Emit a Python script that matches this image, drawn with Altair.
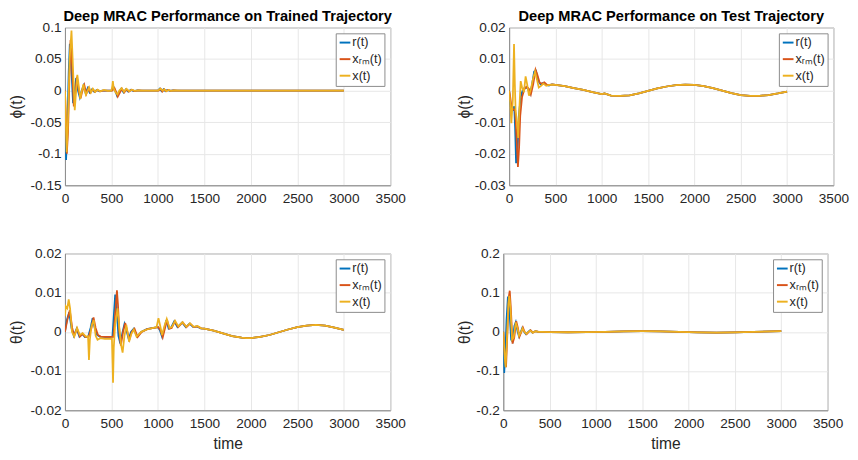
import altair as alt
import pandas as pd

SERIES = ["r(t)", "xᵣₘ(t)", "x(t)"]
COLORS = ["#0072BD", "#D95319", "#EDB120"]

# ---------------- Panel 1: phi, trained trajectory ----------------
p1_r_t = [0, 5, 12, 25, 40, 52, 65, 87, 105, 120, 140, 160, 180, 200, 222, 245, 265, 290, 315, 340, 370, 400,
          450, 500, 525, 545, 560, 580, 605, 630, 655, 680, 710, 740, 780, 820, 900, 1000, 1020, 1040, 1060,
          1080, 1100, 1130, 1160, 1200]
p1_r_v = [0, -0.06, -0.11, -0.06, 0.03, 0.074, 0.045, -0.02, 0.0, 0.02, 0.0, -0.011, 0.0, 0.008, -0.004, 0.004,
          -0.003, 0.002, -0.002, 0.001, -0.001, 0.0, 0.0, 0.0, 0.005, -0.002, -0.008, -0.003, 0.003, -0.003, 0.002,
          -0.0015, 0.0012, -0.0008, 0.0005, 0, 0, 0, 0.003, -0.001, 0.002, -0.001, 0.001, -0.0005, 0.0003, 0]
p1_m_t = [0, 12, 20, 33, 48, 60, 73, 95, 113, 128, 148, 168, 188, 208, 230, 253, 273, 298, 323, 348, 378, 408,
          458, 508, 533, 553, 568, 588, 613, 638, 663, 688, 718, 748, 788, 828, 908, 1008, 1028, 1048, 1068,
          1088, 1108, 1138, 1168, 1208]
p1_m_v = [0, -0.05, -0.1, -0.065, 0.02, 0.08, 0.05, -0.025, -0.002, 0.022, 0.0, -0.012, 0.0, 0.009, -0.005, 0.004,
          -0.003, 0.002, -0.002, 0.001, -0.001, 0.0, 0.0, 0.0, 0.004, -0.003, -0.0095, -0.004, 0.003, -0.003, 0.002,
          -0.0015, 0.0012, -0.0008, 0.0005, 0, 0, 0, 0.003, -0.0015, 0.002, -0.001, 0.001, -0.0005, 0.0003, 0]
p1_x_t = [0, 10, 18, 30, 50, 70, 85, 105, 120, 133, 150, 165, 182, 199, 212, 225, 245, 260, 280, 300, 325, 350,
          380, 420, 460, 500, 510, 515, 525, 545, 565, 585, 610, 635, 660, 690, 720, 750, 790, 850, 1000, 1015,
          1030, 1050, 1070, 1090, 1115, 1140, 1180, 1250]
p1_x_v = [0, -0.05, -0.0975, -0.06, 0.05, 0.095, 0.04, -0.031, 0.0, 0.025, 0.005, -0.013, 0.0, 0.010, 0.0,
          -0.0065, 0.0, 0.005, -0.003, 0.003, -0.002, 0.0015, -0.001, 0.001, -0.0005, 0.0, 0.008, 0.015, 0.003,
          -0.003, -0.006, 0.0, 0.004, -0.002, 0.003, -0.001, 0.0015, -0.0005, 0.0005, 0, 0, 0.002, 0.003, 0.0,
          0.002, -0.001, 0.001, -0.0005, 0.0003, 0]
p1_tail_t = [1500, 2000, 2500, 3000]
p1_tail_v = [0.0, 0.0, 0.0, 0.0]

# ---------------- Panel 2: phi, test trajectory ----------------
p2_r_t = [0, 10, 20, 40, 55, 65, 75, 85, 95, 105, 125, 150, 175, 200, 225, 245, 270, 290, 315, 340, 370, 400,
          430, 460]
p2_r_v = [0, -0.003, -0.0055, -0.006, -0.005, -0.012, -0.023, -0.021, -0.016, -0.008, -0.002, 0.0005, 0.001,
          0.0008, -0.001, 0.0015, 0.006, 0.0063, 0.003, 0.002, 0.0025, 0.0018, 0.0016, 0.002]
p2_m_t = [0, 12, 25, 45, 65, 80, 95, 108, 120, 140, 165, 190, 215, 235, 260, 285, 305, 330, 355, 380, 410, 440,
          470]
p2_m_v = [0, -0.002, -0.005, -0.006, -0.006, -0.015, -0.0242, -0.018, -0.008, -0.002, 0.0005, 0.0012, 0.0005,
          -0.0012, 0.002, 0.0066, 0.005, 0.0025, 0.0022, 0.0026, 0.0018, 0.0018, 0.002]
p2_x_t = [0, 12, 24, 40, 53, 62, 70, 85, 98, 110, 125, 140, 160, 178, 195, 214, 235, 260, 280, 300, 320, 345,
          370, 400, 430, 470]
p2_x_v = [0, -0.004, -0.0103, -0.003, 0.0148, 0.002, -0.0062, -0.01, -0.015, -0.006, 0.003, 0.001, -0.0005,
          0.0045, 0.002, -0.0016, 0.0005, 0.004, 0.006, 0.0035, 0.001, 0.0015, 0.0022, 0.0015, 0.0018, 0.0019]
p2_tail_t = [500, 600, 700, 800, 900, 1000, 1030, 1060, 1100, 1200, 1300, 1400, 1500, 1600, 1700, 1800, 1900,
             2000, 2100, 2200, 2300, 2400, 2500, 2600, 2700, 2800, 2900, 3000]
p2_tail_v = [0.0018, 0.0014, 0.0008, 0.0002, -0.0005, -0.0011, -0.0009, -0.0012, -0.0016, -0.0017, -0.0015,
             -0.0009, -0.0001, 0.0007, 0.0013, 0.0017, 0.0019, 0.0018, 0.0014, 0.0008, 0.0, -0.0008, -0.0014,
             -0.0017, -0.0017, -0.0014, -0.0009, -0.0003]

# ---------------- Panel 3: theta, trained trajectory ----------------
p3_r_t = [0, 20, 45, 70, 95, 125, 155, 185, 215, 250, 275, 297, 320, 345, 375, 420, 470, 510, 525, 540, 555, 575,
          595, 620, 640, 665, 685, 710, 740, 775, 820, 880, 950, 1000, 1020, 1045, 1065, 1090, 1115, 1140, 1175,
          1210, 1260, 1300, 1340, 1380, 1420, 1460]
p3_r_v = [0, 0.003, 0.005, 0.001, -0.001, 0.0008, -0.0012, -0.0005, -0.0013, -0.0012, 0.001, 0.0035, 0.001,
          -0.0008, -0.0012, -0.0013, -0.0013, -0.0013, 0.004, 0.0095, 0.006, -0.001, -0.003, 0.0, 0.002, 0.0,
          -0.0018, 0.0, 0.0008, -0.0012, 0.0, 0.0007, 0.001, 0.0012, 0.0005, -0.0013, 0.0005, 0.003, 0.0008,
          0.001, 0.0027, 0.0012, 0.0024, 0.0012, 0.0021, 0.0012, 0.0014, 0.0009]
p3_m_t = [0, 25, 52, 78, 100, 130, 160, 190, 220, 255, 285, 307, 330, 355, 385, 430, 480, 520, 535, 559, 570, 585,
          601, 625, 648, 672, 692, 718, 748, 782, 825, 885, 955, 1005, 1028, 1052, 1072, 1098, 1122, 1148, 1182,
          1218, 1266, 1306, 1346, 1386, 1426, 1466]
p3_m_v = [0, 0.003, 0.0055, 0.001, -0.001, 0.0008, -0.0012, -0.0005, -0.0013, -0.0012, 0.001, 0.0037, 0.001,
          -0.0008, -0.0012, -0.0013, -0.0013, -0.0013, 0.003, 0.0106, 0.007, 0.0, -0.0035, 0.0, 0.0023, 0.0,
          -0.002, 0.0, 0.0008, -0.0013, 0.0, 0.0007, 0.001, 0.0012, 0.0004, -0.0014, 0.0005, 0.0031, 0.0008,
          0.001, 0.0027, 0.0012, 0.0024, 0.0012, 0.0021, 0.0012, 0.0014, 0.0009]
p3_x_t = [0, 8, 25, 40, 55, 75, 100, 130, 160, 190, 225, 248, 258, 268, 285, 310, 330, 350, 380, 430, 480, 505,
          512, 517, 525, 540, 565, 585, 605, 620, 640, 660, 690, 715, 740, 770, 820, 880, 950, 985, 1006, 1025,
          1045, 1070, 1095, 1125, 1150, 1185, 1220, 1265, 1305, 1345, 1385, 1425, 1465]
p3_x_v = [0.004, 0.0065, 0.006, 0.0083, 0.006, 0.0, -0.0012, 0.001, -0.0008, -0.0003, -0.0012, -0.0011,
          -0.0072, -0.002, 0.0015, 0.003, -0.001, -0.002, -0.0016, -0.0018, -0.0018, -0.0017, -0.008, -0.013,
          -0.004, 0.002, 0.006, 0.001, -0.0035, -0.0053, -0.001, 0.0018, -0.0025, -0.0005, 0.0006, -0.0012, 0.0,
          0.0006, 0.001, 0.0012, 0.0035, 0.0015, -0.0008, 0.0015, 0.0033, 0.001, 0.0012, 0.0028, 0.0014, 0.0025,
          0.0013, 0.0022, 0.0013, 0.0015, 0.0009]
p3_tail_t = [1500, 1600, 1700, 1800, 1900, 1950, 2000, 2100, 2200, 2300, 2400, 2500, 2600, 2700, 2800, 2900, 3000]
p3_tail_v = [0.0008, 0.0003, -0.0004, -0.0011, -0.0015, -0.0016, -0.0016, -0.0013, -0.0008, -0.0001, 0.0006,
             0.0012, 0.0016, 0.0018, 0.0016, 0.0011, 0.0005]

# ---------------- Panel 4: theta, test trajectory ----------------
p4_r_t = [0, 5, 10, 20, 35, 50, 65, 85, 100, 120, 135, 155, 170, 190, 205, 225, 245, 270, 290, 315, 345, 380, 420]
p4_r_v = [0, -0.07, -0.105, -0.07, 0.03, 0.09, 0.06, -0.02, -0.025, 0.015, 0.025, 0.0, -0.012, 0.0, 0.01, 0.0,
          -0.006, 0.0, 0.004, -0.002, 0.002, 0.0, 0.0]
p4_m_t = [0, 15, 30, 45, 60, 70, 82, 100, 118, 140, 158, 175, 195, 212, 230, 252, 275, 295, 320, 350, 380, 420]
p4_m_v = [0, -0.06, -0.09, 0.0, 0.09, 0.105, 0.06, -0.03, -0.015, 0.027, 0.01, -0.012, 0.0, 0.011, 0.0, -0.006,
          0.0, 0.004, -0.002, 0.002, 0.0, 0.0]
p4_x_t = [0, 12, 25, 40, 55, 65, 78, 95, 112, 135, 155, 170, 192, 208, 228, 248, 272, 292, 318, 348, 380, 420]
p4_x_v = [0, -0.05, -0.09, -0.02, 0.07, 0.092, 0.06, -0.02, -0.015, 0.024, 0.008, -0.01, 0.0, 0.009, 0.0,
          -0.005, 0.0, 0.003, -0.002, 0.0015, 0.0, 0.0]
p4_tail_t = [500, 700, 900, 1100, 1300, 1500, 1700, 1900, 2100, 2300, 2500, 2700, 2900, 3000]
p4_tail_v = [-0.0005, -0.001, -0.0008, 0.0, 0.0015, 0.002, 0.0015, 0.0, -0.0015, -0.002, -0.0015, 0.0, 0.0015,
             0.002]

X_TICKS = [0, 500, 1000, 1500, 2000, 2500, 3000, 3500]

FONT = "Liberation Sans"


def make_df(r, m, x, tail):
    rows = []
    for name, (ts, vs) in zip(SERIES, [r, m, x]):
        for t, v in zip(list(ts) + list(tail[0]), list(vs) + list(tail[1])):
            rows.append({"t": t, "v": v, "s": name})
    return pd.DataFrame(rows)


def panel(df, title, ylab, ydom, yticks, w, h, ytitle_x, xtitle):
    xaxis = alt.Axis(values=X_TICKS, labelExpr="'' + datum.value", title=xtitle if xtitle else None,
                     titlePadding=5, labelPadding=7, labelFlush=False)
    yaxis = alt.Axis(values=yticks, labelExpr="'' + datum.value", title=ylab, titleAngle=-90,
                     titleX=ytitle_x, titleY=h / 2, titleAlign="center", titleBaseline="middle",
                     labelPadding=4, labelFlush=False)
    ch = alt.Chart(df).mark_line(strokeWidth=1.8, clip=True).encode(
        x=alt.X("t:Q", scale=alt.Scale(domain=[0, 3500], nice=False), axis=xaxis),
        y=alt.Y("v:Q", scale=alt.Scale(domain=ydom, nice=False, zero=False), axis=yaxis),
        color=alt.Color("s:N", scale=alt.Scale(domain=SERIES, range=COLORS),
                        legend=alt.Legend(title=None, orient="top-right", offset=6, padding=3,
                                          strokeColor="#8a8a8a", fillColor="white",
                                          symbolType="stroke", symbolSize=121, symbolStrokeWidth=2,
                                          labelFont=FONT, labelFontSize=13, labelColor="#262626",
                                          rowPadding=3, labelOffset=1)),
        detail="s:N",
    )
    props = dict(width=w, height=h)
    if title:
        props["title"] = alt.Title(title, font=FONT, fontSize=15, fontWeight="bold", color="#000000",
                                   offset=-3, anchor="middle")
    return ch.properties(**props)


p1 = panel(make_df((p1_r_t, p1_r_v), (p1_m_t, p1_m_v), (p1_x_t, p1_x_v), (p1_tail_t, p1_tail_v)),
           "Deep MRAC Performance on Trained Trajectory", "ϕ(t)", [-0.15, 0.1],
           [-0.15, -0.1, -0.05, 0, 0.05, 0.1], 334, 162, -50, None)
p2 = panel(make_df((p2_r_t, p2_r_v), (p2_m_t, p2_m_v), (p2_x_t, p2_x_v), (p2_tail_t, p2_tail_v)),
           "Deep MRAC Performance on Test Trajectory", "ϕ(t)", [-0.03, 0.02],
           [-0.03, -0.02, -0.01, 0, 0.01, 0.02], 333, 162, -46, None)
p3 = panel(make_df((p3_r_t, p3_r_v), (p3_m_t, p3_m_v), (p3_x_t, p3_x_v), (p3_tail_t, p3_tail_v)),
           None, "θ(t)", [-0.02, 0.02], [-0.02, -0.01, 0, 0.01, 0.02], 334, 161, -50, "time")
p4 = panel(make_df((p4_r_t, p4_r_v), (p4_m_t, p4_m_v), (p4_x_t, p4_x_v), (p4_tail_t, p4_tail_v)),
           None, "θ(t)", [-0.2, 0.2], [-0.2, -0.1, 0, 0.1, 0.2], 333, 161, -40, "time")

top = alt.hconcat(p1, p2, spacing=50).resolve_scale(color="independent").resolve_legend(color="independent")
bottom = alt.hconcat(p3, p4, spacing=50).resolve_scale(color="independent").resolve_legend(color="independent")

chart = alt.vconcat(top, bottom, spacing=40).resolve_scale(
    color="independent").resolve_legend(color="independent").properties(
    padding={"left": -0.5, "top": -6, "right": 0, "bottom": 0},
    background="white",
).configure_view(stroke="#8a8a8a", strokeWidth=1).configure_axis(
    labelFont=FONT, labelFontSize=14, labelColor="#262626",
    titleFont=FONT, titleFontSize=16, titleColor="#262626", titleFontWeight="normal",
    domainColor="#8a8a8a", ticks=False, gridColor="#e6e6e6", grid=True,
)

chart.save("out.html", embed_options={"renderer": "svg", "actions": False})
